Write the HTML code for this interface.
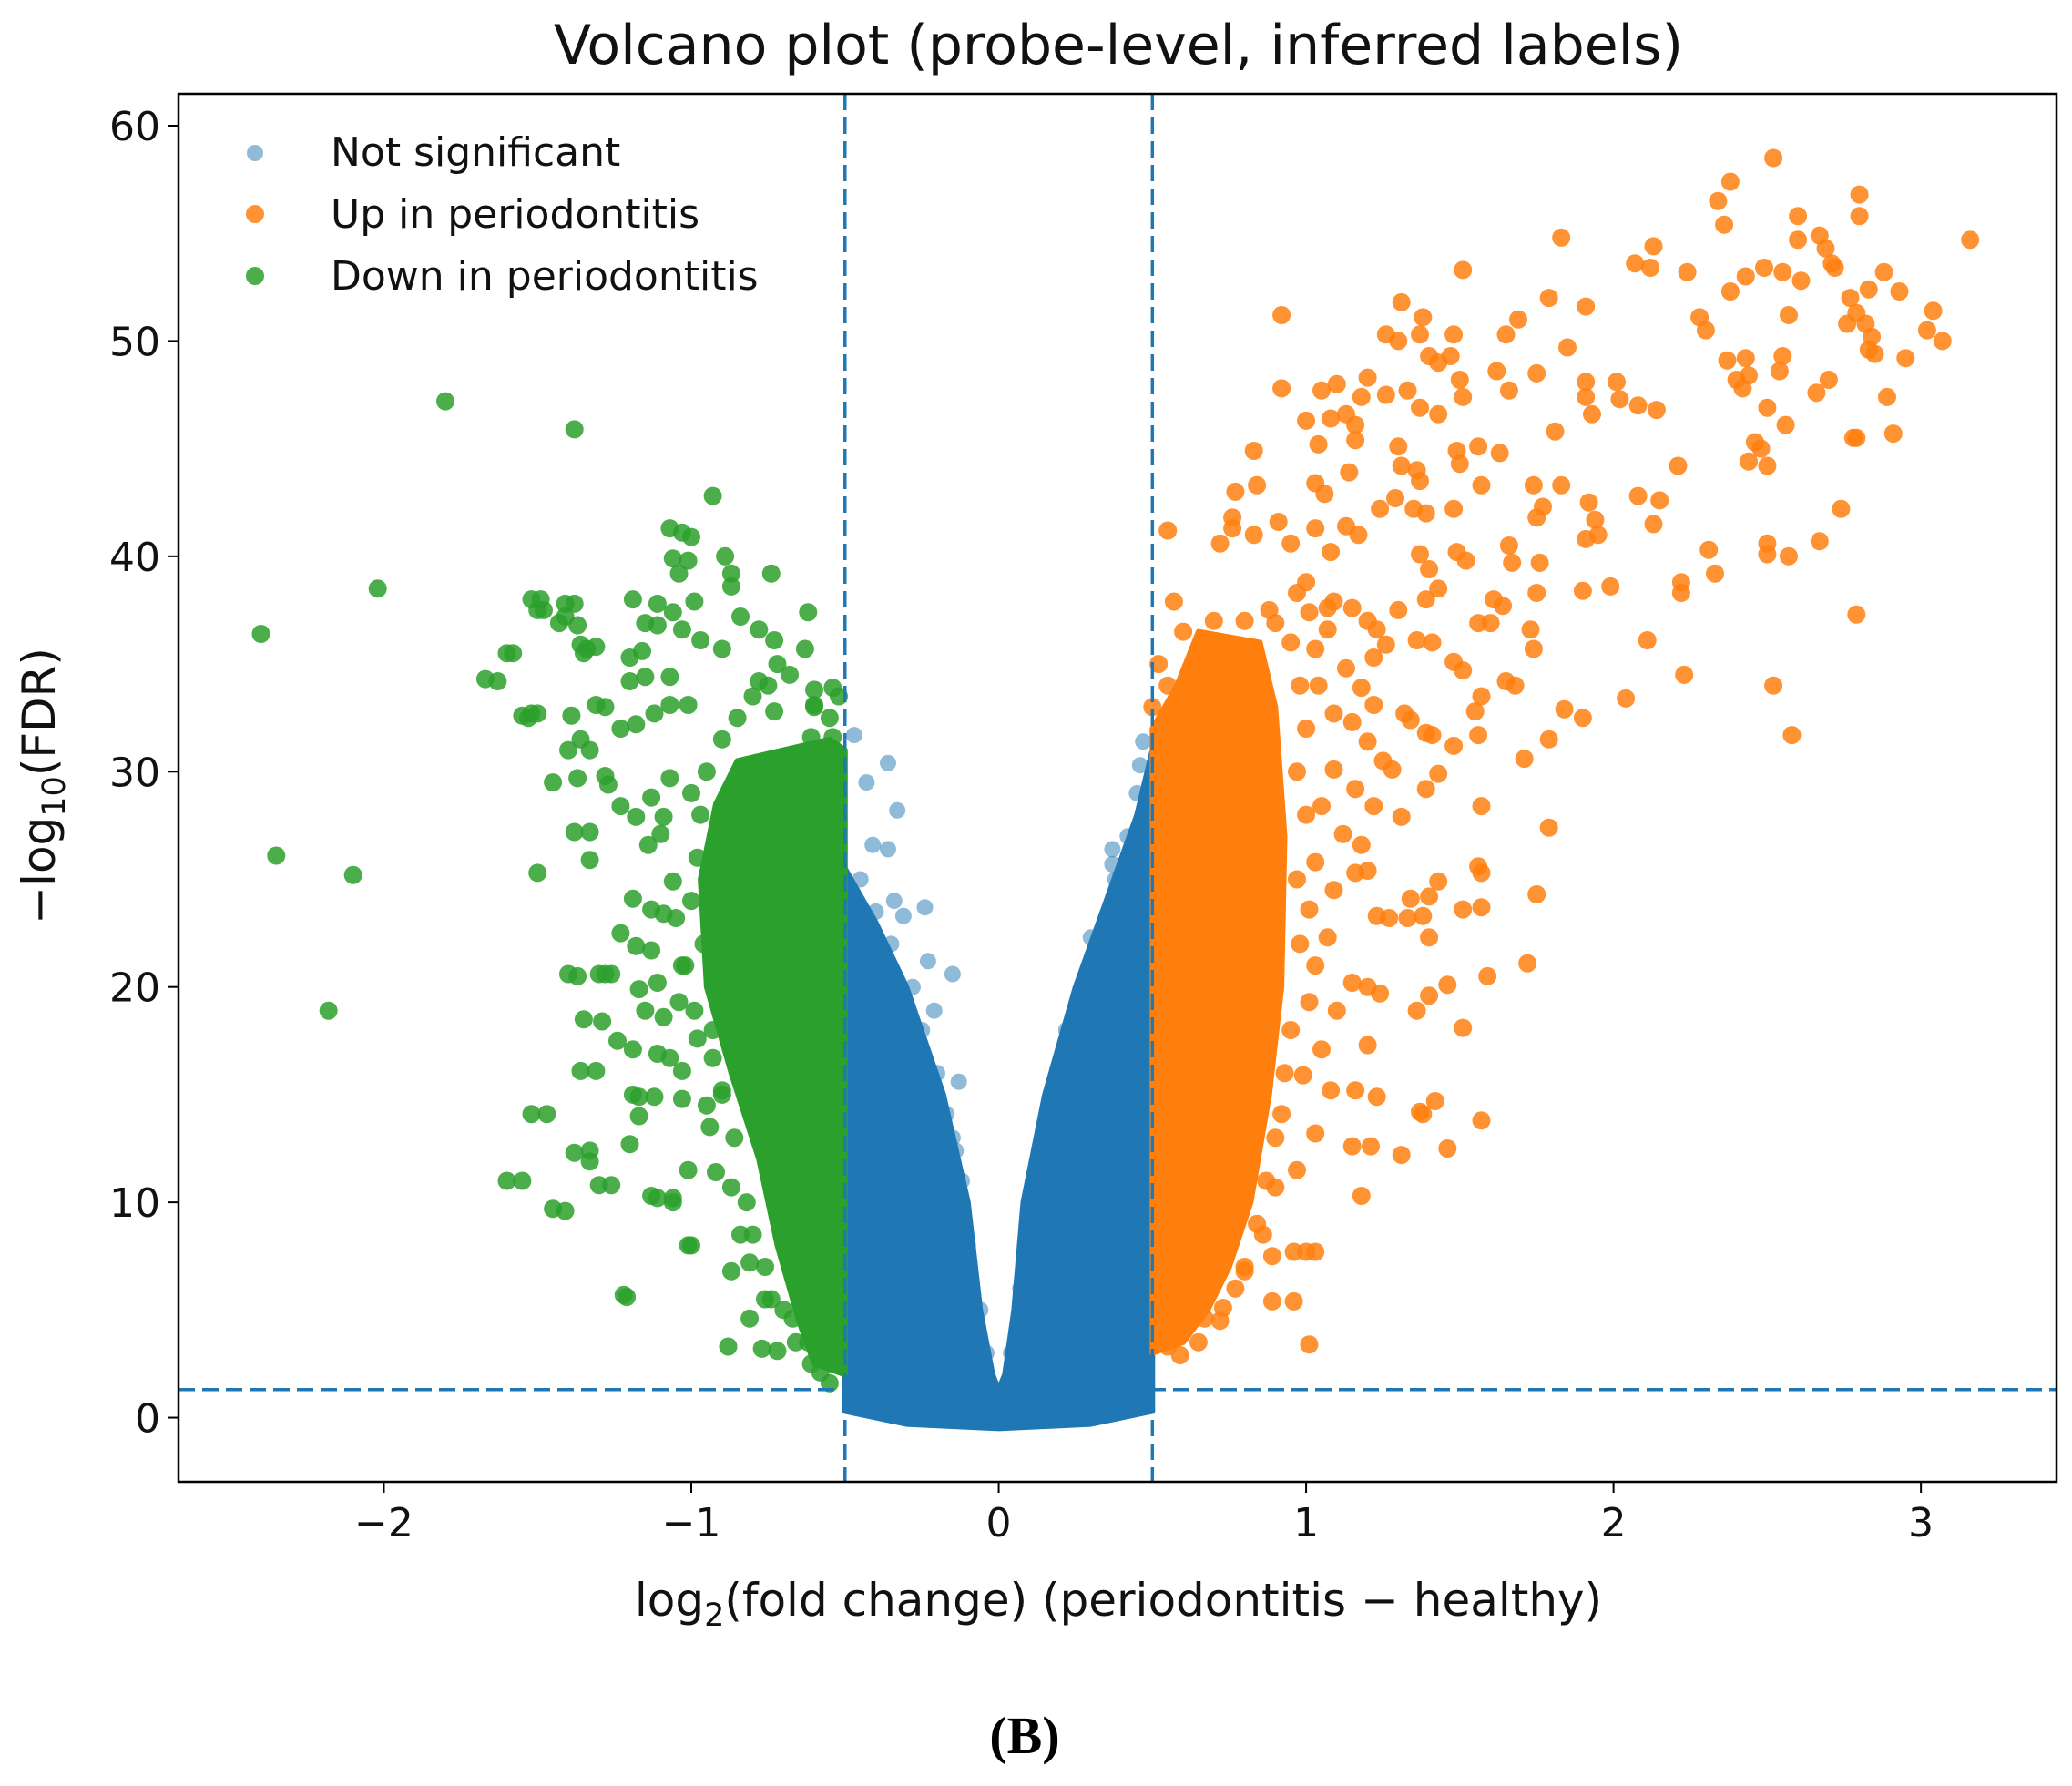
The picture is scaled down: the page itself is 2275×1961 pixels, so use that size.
<!DOCTYPE html>
<html><head><meta charset="utf-8"><style>
html,body{margin:0;padding:0;background:#fff;}
svg{display:block;font-family:"DejaVu Sans","Liberation Sans",sans-serif;}
</style></head>
<body>
<svg id="chart" width="2275" height="1961" viewBox="0 0 2275 1961" xmlns="http://www.w3.org/2000/svg">
<rect width="2275" height="1961" fill="#fff"/>
<text x="1228" y="70" font-size="60" text-anchor="middle" fill="#111">Volcano plot (probe-level, inferred labels)</text>
<g id="marks"></g>
<g id="axes"></g>
<text x="1228" y="1774" font-size="50" text-anchor="middle" fill="#111">log<tspan font-size="35" dy="11">2</tspan><tspan dy="-11">(fold change) (periodontitis − healthy)</tspan></text>
<text transform="translate(60,863) rotate(-90)" font-size="50" text-anchor="middle" fill="#111">−log<tspan font-size="35" dy="11">10</tspan><tspan dy="-11">(FDR)</tspan></text>
<text x="1125" y="1925" font-size="58" font-weight="bold" text-anchor="middle" font-family="Liberation Serif, serif" fill="#000">(B)</text>
<g>
<circle cx="280" cy="168" r="9" fill="#1f77b4" fill-opacity="0.5"/>
<text x="363" y="182" font-size="44" fill="#111">Not significant</text>
<circle cx="280" cy="235" r="10" fill="#ff7f0e" fill-opacity="0.85"/>
<text x="363" y="250" font-size="44" fill="#111">Up in periodontitis</text>
<circle cx="280" cy="303" r="10" fill="#2ca02c" fill-opacity="0.85"/>
<text x="363" y="318" font-size="44" fill="#111">Down in periodontitis</text>
</g>
</svg>
<script>
// ---- data (log2FC, -log10 FDR) ----
const xTicks = [-2,-1,0,1,2,3];
const yTicks = [0,10,20,30,40,50,60];
const fcThreshold = [-0.5, 0.5];
const fdrThreshold = [1.3];
// dense cores (envelopes of overplotted points)
const blueCoreX = [-0.5,-0.3,0,0.3,0.5,0.5,0.45,0.35,0.25,0.15,0.08,0.05,0.02,0,-0.02,-0.06,-0.1,-0.18,-0.3,-0.4,-0.5];
const blueCoreY = [0.3,-0.3,-0.5,-0.3,0.3,31,28,24,20,15,10,5,2,1.3,2,5,10,15,20,23,25.5];
const greenCoreX = [-0.5,-0.6,-0.65,-0.72,-0.78,-0.87,-0.95,-0.97,-0.92,-0.85,-0.7,-0.55,-0.5];
const greenCoreY = [2,2.5,4.5,8,12,16,20,25,28.5,30.5,31,31.5,31];
const orangeCoreX = [0.5,0.6,0.68,0.75,0.82,0.88,0.92,0.93,0.9,0.85,0.65,0.58,0.5];
const orangeCoreY = [3,3.5,5,7,10,15,20,27,33,36,36.5,34,32];
// individual points
const blueX = [-0.47,-0.36,-0.43,-0.33,-0.41,-0.36,-0.24,-0.34,-0.31,-0.15,-0.23,-0.21,-0.13,-0.17,-0.14,0.47,0.46,0.48,0.37,0.37,0.30,0.32,0.25,
-0.1,-0.12,-0.15,-0.2,-0.25,-0.28,-0.35,-0.4,-0.45,-0.06,-0.04,0.04,0.07,0.1,0.13,0.18,0.22,0.27,0.32,0.38,0.42,0.45];
const blueY = [31.7,30.4,29.5,28.2,26.6,26.4,23.7,24.0,23.3,20.6,21.2,18.9,15.6,14.1,12.4,31.4,30.3,27.5,26.4,25.7,22.3,21.5,18.0,
8,11,13,16,18,20,22,23.5,25,5,3,3,6,9,12,15,18,20,22,25,27,29];
const greenX = [-2.4,-2.35,-2.1,-2.18,-2.02,-1.8,-1.38,-0.93,-1.6,-1.45,-1.52,-1.67,-1.6,-1.55,-1.52,-1.5,-1.52,-1.41,-1.43,-1.36,-1.38,-1.4,-1.4,-1.38,-1.35,-1.36,-1.3,-1.28,-1.3,-1.22,-1.2,-1.17,-1.13,-1.06,-1.0,
-1.07,-1.03,-1.0,-1.06,-1.01,-0.89,-0.87,-0.87,-0.74,-1.04,-1.06,-0.99,-0.62,-1.19,-1.11,-1.15,-1.11,-1.03,-0.97,-0.90,-0.84,-0.78,-0.73,-0.63,-0.72,-1.20,-1.16,-1.20,-1.15,-1.07,-1.01,-0.60,-0.54,-0.60,-0.78,-0.73,-1.23,-1.18,-1.12,-1.07,-0.61,-0.54,-1.23,-1.18,-1.13,-1.09,-1.07,-1.14,-1.10,-1.06,-1.19,-1.13,-1.09,-1.23,-1.18,-1.13,-1.03,-1.05,-1.17,-1.11,-1.04,-0.99,-1.09,-0.98,-0.93,-1.11,-1.07,-1.03,-0.90,-0.95,-0.94,-1.12,-1.17,-1.03,-1.01,-0.92,-0.87,-0.84,-0.81,-0.87,-0.76,-0.74,-0.81,-0.67,-0.88,-0.77,-0.72,-0.62,-0.61,-0.58,-0.55,
-1.38,-1.37,-1.34,-1.31,-1.35,-1.39,-1.31,-1.36,-1.33,-1.37,-1.28,-1.27,-1.33,-1.33,-1.50,-1.45,-1.50,-1.53,-1.49,-1.48,-1.41,-1.58,-1.63,-1.37,-1.28,-1.26,-1.29,-1.31,-1.47,-1.33,-1.33,-1.26,-1.11,-1.06,-1.01,-1.21,-1.55,-1.41,-1.24,-1.19,-1.15,-1.19,
-0.98,-1.0,-0.96,-1.02,-0.93,-0.9,-0.86,-0.82,-0.8,-0.76,-0.7,-0.66,-0.95,-0.9,-0.85,-0.8,-0.75,-0.68,-0.6,-0.55,-0.52,-1.0,-0.97];
const greenY = [36.4,26.1,25.2,18.9,38.5,47.2,45.9,42.8,11,9.7,14.1,34.3,35.5,32.6,32.7,37.5,38,37.8,36.9,35.9,27.2,31,20.6,12.3,18.5,16.1,20.6,33,10.8,5.7,12.7,14.9,10.3,10.2,8,
41.3,41.1,40.9,39.9,39.8,40.0,39.2,38.6,39.2,39.2,37.4,37.9,37.4,38.0,37.8,36.9,36.8,36.6,36.1,35.7,37.2,36.6,36.1,35.7,35.0,35.3,35.6,34.2,34.4,34.4,33.1,33.8,33.9,33.1,34.2,32.8,32.0,32.2,32.7,33.1,31.6,31.6,28.4,27.9,28.8,27.9,29.7,26.6,27.1,24.9,24.1,23.6,23.4,22.5,21.9,21.7,21.0,23.2,19.9,20.2,19.3,18.9,18.6,17.6,16.7,16.9,16.7,16.1,15.2,14.5,13.5,14.9,14.0,14.8,11.5,11.4,10.7,8.5,7.2,6.8,5.5,5.5,4.6,4.6,3.3,3.2,3.1,3.5,2.5,2.1,1.6,
37.8,36.8,35.7,35.8,35.5,32.6,33.1,31.5,31.0,29.7,29.8,29.4,27.2,25.9,25.3,29.5,32.7,32.5,38.0,37.5,37.2,35.5,34.2,20.5,20.6,20.6,18.4,16.1,14.1,12.4,11.9,10.8,10.2,10.0,8.0,5.6,11.0,9.6,17.5,15,18.9,17.1,
26,24,22,21,18,15,13,10,8.5,7,5,3.5,30,31.5,32.5,33.5,34,34.5,33,32.5,33.5,29,28];
const orangeX = [2.52,2.38,2.34,2.36,2.80,2.80,2.60,2.60,2.67,2.69,2.71,2.72,3.16,1.83,2.13,2.07,2.12,2.24,2.38,2.43,2.49,2.55,2.61,2.88,2.93,2.83,2.77,2.79,2.82,2.76,2.84,2.83,2.85,2.95,3.04,3.02,3.07,2.57,2.28,2.30,1.51,1.31,0.92,1.38,1.69,1.79,1.91,1.65,1.26,1.30,1.37,1.48,1.40,1.43,1.47,1.85,2.37,2.43,2.44,2.40,2.42,2.54,2.55,2.70,2.66,2.89,2.91,2.78,2.79,2.50,2.56,2.46,2.48,2.44,2.50,2.74,2.67,2.50,2.50,2.57,2.31,2.33,2.21,2.22,2.22,2.79,2.23,2.52,2.58,2.11,2.04,2.08,2.15,2.13,2.01,2.02,2.08,2.14,1.91,1.91,1.93,1.81,1.75,1.66,1.62,1.51,1.50,1.43,1.37,1.33,1.26,1.20,1.18,1.10,1.05,1.08,1.13,1.16,1.00,1.04,1.16,0.92,0.83,0.84,0.77,0.55,0.57,0.76,0.76,0.72,0.83,0.91,1.03,1.06,1.14,0.95,1.03,1.08,1.13,1.17,1.24,1.29,1.30,1.36,1.31,1.37,1.35,1.39,1.49,1.56,1.63,1.50,1.57,1.48,1.74,1.83,1.77,1.75,1.92,1.94,1.95,1.91,1.66,1.67,1.76,1.75,1.90,1.99,1.49,1.52,1.37,1.40,1.43,1.39,1.36,1.41,1.30,1.48,1.51,1.56,1.60,1.61,1.64,1.73,1.74,1.65,1.68,1.57,1.55,1.56,1.32,1.34,1.39,1.41,1.48,1.43,1.39,1.84,1.90,1.79,1.71,1.28,1.31,1.57,1.79,1.56,1.57,1.75,1.51,1.57,1.40,1.34,1.43,1.38,1.40,1.23,1.27,1.33,1.20,1.16,1.72,1.59,1.46,1.40,1.36,1.24,1.20,1.15,1.51,1.20,1.23,1.16,1.08,1.42,1.37,1.38,1.57,1.46,1.31,1.21,1.15,1.18,1.03,0.96,1.00,1.03,0.96,0.89,0.89,1.01,0.59,0.55,
0.90,0.97,1.00,1.01,1.07,1.09,1.15,1.20,1.23,1.26,1.22,1.07,1.03,1.13,1.18,1.22,1.09,1.04,1.15,1.20,1.25,1.09,1.16,1.22,1.05,1.12,1.18,1.03,1.09,1.01,1.07,1.03,1.10,1.05,1.01,0.99,0.92,0.97,0.90,0.86,0.80,0.73,0.67,
0.95,0.98,1.0,0.97,1.0,0.97,0.98,0.95,0.93,0.9,0.87,0.84,0.8,0.77,0.72,0.65,0.6,0.7,0.8,0.88,0.55,0.52,0.5];
const orangeY = [58.5,57.4,56.5,55.4,56.8,55.8,55.8,54.7,54.9,54.3,53.6,53.4,54.7,54.8,54.4,53.6,53.4,53.2,52.3,53.0,53.4,53.2,52.8,53.2,52.3,52.4,52.0,51.3,50.8,50.8,50.2,49.6,49.4,49.2,51.4,50.5,50.0,51.2,51.1,50.5,53.3,51.8,51.2,51.1,51.0,52.0,51.6,50.3,50.3,50.0,50.3,50.3,49.3,49.0,49.3,49.7,49.1,49.2,48.4,48.2,47.8,48.6,49.3,48.2,47.6,47.4,45.7,45.5,45.5,46.9,46.1,45.3,45.0,44.4,44.2,42.2,40.7,40.6,40.1,40.0,40.3,39.2,44.2,38.8,38.3,37.3,34.5,34.0,31.7,36.1,33.4,42.8,42.6,41.5,48.1,47.3,47.0,46.8,48.1,47.4,46.6,45.8,48.5,47.7,48.6,47.4,48.2,46.6,46.9,47.7,47.5,48.3,47.4,48.0,47.7,46.4,46.6,46.1,46.3,45.2,45.4,47.8,44.9,43.3,43.0,41.2,37.9,41.8,41.3,40.6,41.0,41.6,43.4,42.9,43.9,40.6,41.3,40.2,41.4,41.0,42.2,42.7,45.1,44.0,44.2,43.5,42.2,42.0,44.9,45.1,44.8,44.3,43.3,42.2,43.3,43.3,42.3,41.8,42.5,41.7,41.0,40.8,40.5,39.7,39.7,38.3,38.4,38.6,40.2,39.8,40.1,39.4,38.5,38.0,36.1,36.0,37.5,35.1,34.7,36.9,36.9,38.0,37.7,36.6,35.7,34.2,34.0,33.5,32.8,31.7,32.7,32.4,31.8,31.7,31.2,29.9,29.2,32.9,32.5,31.5,30.6,30.1,27.9,28.4,27.4,25.6,25.3,24.3,23.6,23.7,24.2,24.1,24.9,23.3,22.3,23.3,23.2,23.2,25.4,25.3,21.1,20.5,20.1,19.6,18.9,19.7,20.0,20.2,18.1,17.3,14.9,15.2,15.2,14.7,14.2,14.1,13.8,12.5,12.2,12.6,12.6,10.3,13.2,7.7,7.7,7.7,5.4,5.4,7.5,3.4,2.9,3.3,
36.9,38.3,38.8,37.4,37.6,37.9,37.6,37.0,36.6,35.9,35.3,36.6,35.7,34.8,33.9,33.1,32.7,34.0,32.3,31.4,30.5,30.1,29.2,28.4,28.4,27.1,26.6,25.8,24.5,23.6,22.3,21.0,18.9,17.1,19.3,15.9,14.1,11.5,10.7,8.5,6.8,5.1,4.6,
36,34,32,30,28,25,22,18,16,13,11,9,7,6,4.5,3.5,36.5,37,37,37.5,34,35,33];

// ---- axes mapping ----
const X0 = 196, X1 = 2258, Y0 = 103, Y1 = 1627;
const xMin = -2.668, xMax = 3.441, yMin = -2.98, yMax = 61.48;
function sx(v){ return X0 + (v - xMin) / (xMax - xMin) * (X1 - X0); }
function sy(v){ return Y1 - (v - yMin) / (yMax - yMin) * (Y1 - Y0); }
const NS = 'http://www.w3.org/2000/svg';
const marks = document.getElementById('marks');
const axes = document.getElementById('axes');
function mk(tag, attrs, parent){ const e = document.createElementNS(NS, tag); for (const k in attrs) e.setAttribute(k, attrs[k]); parent.appendChild(e); return e; }

const clip = mk('clipPath', {id:'plotclip'}, marks);
mk('rect', {x:X0, y:Y0, width:X1-X0, height:Y1-Y0}, clip);
const plotG = mk('g', {'clip-path':'url(#plotclip)'}, marks);

function core(xs, ys, color, name){
  const pts = xs.map((v,i) => sx(v).toFixed(1) + ',' + sy(ys[i]).toFixed(1)).join(' ');
  const p = mk('polygon', {points: pts, fill: color, stroke: color, 'stroke-width': 6, 'stroke-linejoin':'round'}, plotG);
  
  
}
function scatter(xs, ys, color, r, op, name){
  const g = mk('g', {}, plotG);
  
  
  xs.forEach((v,i) => {
    const c = mk('circle', {cx: sx(v).toFixed(1), cy: sy(ys[i]).toFixed(1), r: r, fill: color, 'fill-opacity': op}, g);
    
    
  });
}
core(blueCoreX, blueCoreY, '#1f77b4', 'not-significant-dense-core');
scatter(blueX, blueY, '#1f77b4', 9, 0.5, 'not-significant-points');
core(orangeCoreX, orangeCoreY, '#ff7f0e', 'up-dense-core');
scatter(orangeX, orangeY, '#ff7f0e', 10, 0.85, 'up-points');
core(greenCoreX, greenCoreY, '#2ca02c', 'down-dense-core');
scatter(greenX, greenY, '#2ca02c', 10, 0.85, 'down-points');

// threshold lines
fcThreshold.forEach(v => {
  const l = mk('line', {x1: sx(v), x2: sx(v), y1: Y0, y2: Y1, stroke:'#1f77b4', 'stroke-width':3.5, 'stroke-dasharray':'18,8'}, plotG);
  
  
});
fdrThreshold.forEach(v => {
  const l = mk('line', {x1: X0, x2: X1, y1: sy(v), y2: sy(v), stroke:'#1f77b4', 'stroke-width':3.5, 'stroke-dasharray':'18,8'}, plotG);
  
  
});

// frame
const frame = mk('rect', {x:X0, y:Y0, width:X1-X0, height:Y1-Y0, fill:'none', stroke:'#000', 'stroke-width':2.5}, axes);


xTicks.forEach(v => {
  const x = sx(v);
  const t = mk('line', {x1:x, x2:x, y1:Y1, y2:Y1+12, stroke:'#000', 'stroke-width':2}, axes);
  
  
  const lb = mk('text', {x:x, y:Y1+60, 'font-size':44, 'text-anchor':'middle', fill:'#111'}, axes);
  lb.textContent = v < 0 ? '−' + Math.abs(v) : String(v);
  
  
});
yTicks.forEach(v => {
  const y = sy(v);
  const t = mk('line', {x1:X0-12, x2:X0, y1:y, y2:y, stroke:'#000', 'stroke-width':2}, axes);
  
  
  const lb = mk('text', {x:X0-20, y:y+16, 'font-size':44, 'text-anchor':'end', fill:'#111'}, axes);
  lb.textContent = String(v);
  
  
});
</script>
</body></html>
